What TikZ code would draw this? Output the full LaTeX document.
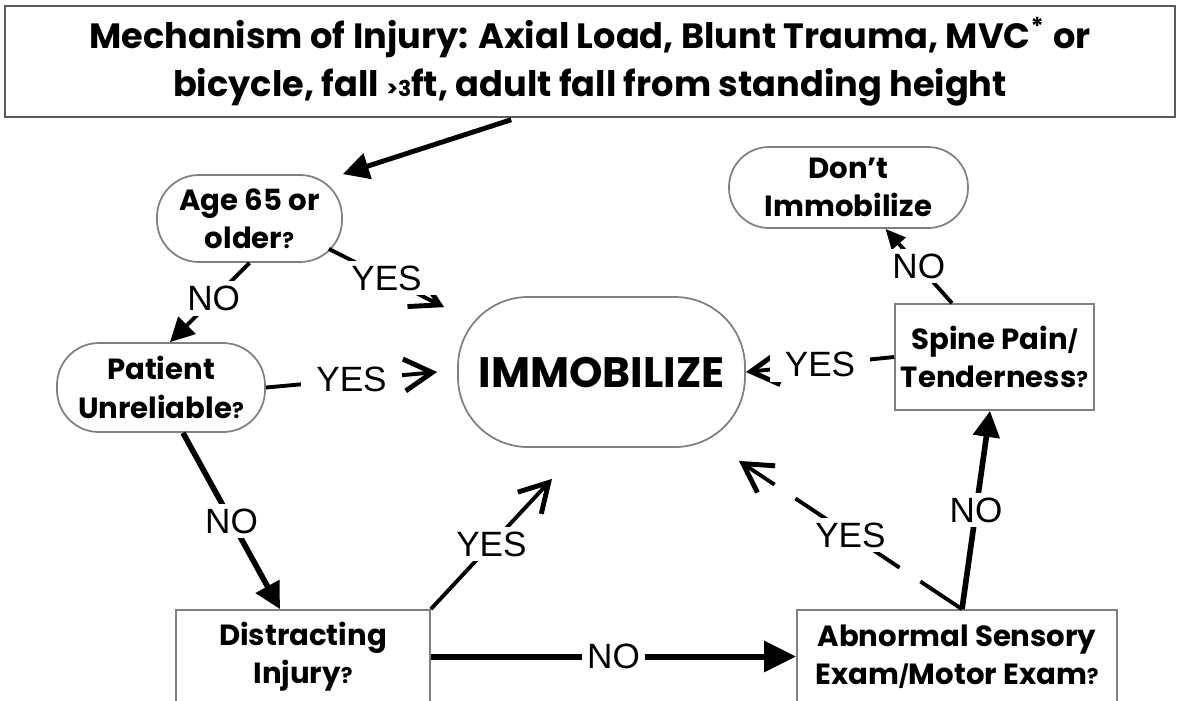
\documentclass[tikz,border=0pt]{standalone}
\usepackage{fontspec}
\setmainfont{Liberation Sans}
\newfontfamily\boxfont{Poppins}
\usetikzlibrary{arrows.meta}

\newcommand{\sm}[1]{{\fontsize{6.2}{6}\selectfont #1}}

\begin{document}
\begin{tikzpicture}[
    qbox/.style={draw=gray,line width=0.5pt,align=center,inner sep=0pt,
      font=\boxfont\bfseries\fontsize{8.3}{10.9}\selectfont},
    oval/.style={qbox,rounded corners=4.2mm},
    flow/.style={line width=1.4pt,-{Triangle[length=2.6mm,width=2.6mm]}},
    yes/.style={line width=1.1pt,-{Straight Barb[length=2.8mm,width=3.2mm,line width=1.4pt]}},
    lbl/.style={fill=white,inner sep=0.5mm,font=\fontsize{10}{12}\selectfont},
    ylbl/.style={lbl,inner xsep=1.5mm}
  ]
      \useasboundingbox (0,0) rectangle (11.8,-7);

      \node[draw=gray!70!black,line width=0.6pt,minimum width=11.7cm,minimum height=1.11cm,
        align=center,font=\boxfont\bfseries\fontsize{10}{13.6}\selectfont] (top) at (5.9,-0.615)
        {Mechanism of Injury: Axial Load, Blunt Trauma, MVC\textsuperscript{*} or\\
         bicycle, fall \sm{>3}ft, adult fall from standing height};

      \node[oval,minimum width=1.85cm,minimum height=0.87cm] (age) at (2.495,-2.185) {Age 65 or\\older\sm{?}};
      \node[oval,minimum width=2.08cm,minimum height=0.89cm] (patient) at (1.61,-3.875) {Patient\\Unreliable\sm{?}};
      \node[qbox,rounded corners=7mm,minimum width=2.87cm,minimum height=1.5cm,
        font=\boxfont\bfseries\fontsize{12.1}{13}\selectfont] (immob) at (6.015,-3.72) {IMMOBILIZE};
      \node[oval,rounded corners=4mm,minimum width=2.39cm,minimum height=0.81cm] (dont) at (8.485,-1.875) {Don’t\\Immobilize};
      \node[qbox,minimum width=1.99cm,minimum height=1.06cm] (spine) at (9.945,-3.57) {Spine Pain\sm{/}\\Tenderness\sm{?}};
      \node[qbox,minimum width=2.54cm,minimum height=0.93cm] (distract) at (3.03,-6.565) {Distracting\\Injury\sm{?}};
      \node[qbox,minimum width=3.2cm,minimum height=0.93cm] (abnormal) at (9.57,-6.565) {Abnormal Sensory\\Exam\sm{/}Motor Exam\sm{?}};

      % flow from the mechanism box
      \draw[flow,shorten <=0.4mm] ([xshift=-7.5mm]top.south) -- (age.north east);

      \draw[flow,line width=1.1pt,-{Triangle[length=2.4mm,width=2.4mm]}] (age.south) --
        node[lbl,pos=0.45] {NO} ([xshift=0.9mm]patient.north);
      \draw[yes] ([shift={(-0.14,0.14)}]age.south east) --
        node[ylbl] {YES} ([shift={(-0.13,-0.11)}]immob.north west);

      \draw[yes] (patient.east) -- node[ylbl] {YES} ([xshift=-2mm]immob.west);
      \draw[flow,line width=1.6pt] ([xshift=2.2mm]patient.south) --
        node[lbl] {NO} ([xshift=-2.3mm]distract.north);

      \draw[yes] (distract.north east) --
        node[ylbl] {YES} ([shift={(-0.495,-0.31)}]immob.south);
      \draw[flow,line width=1.7pt,-{Triangle[length=3.2mm,width=3mm]}] (distract.east) --
        node[lbl] {NO} (abnormal.west);

      \draw[yes,dash pattern=on 5mm off 2.5mm] ([xshift=0.5mm]abnormal.north) --
        node[ylbl] {YES} ([shift={(-0.07,-0.13)}]immob.south east);
      \draw[flow,line width=1.6pt] ([xshift=0.5mm]abnormal.north) --
        node[lbl] {NO} ([xshift=-0.45mm]spine.south);

      \draw[yes] (spine.west) -- node[ylbl] {YES} (immob.east);
      \draw[flow,line width=1.1pt,-{Triangle[length=2mm,width=1.8mm]}] ([xshift=-4.25mm]spine.north) --
        node[lbl] {NO} ([xshift=3.7mm]dont.south);
    \end{tikzpicture}
\end{document}
